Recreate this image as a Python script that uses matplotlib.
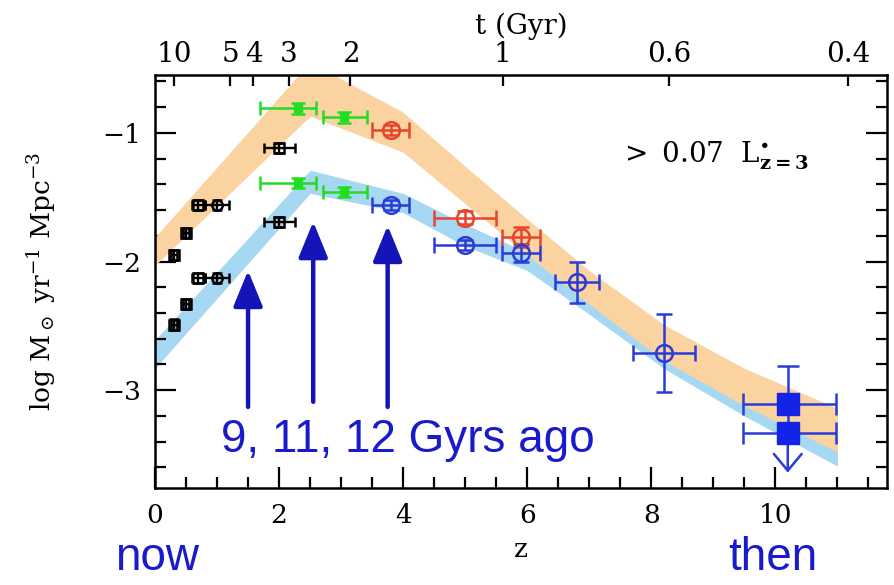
import numpy as np
import matplotlib
matplotlib.use('Agg')
import matplotlib.pyplot as plt
from matplotlib.ticker import MultipleLocator, FixedLocator, NullLocator

plt.rcParams['font.family'] = ['DejaVu Serif']
plt.rcParams['mathtext.fontset'] = 'dejavuserif'

# ---------------- data ----------------
band_z = [0.0, 2.5, 4.0, 5.0, 6.0, 7.0, 8.2, 9.5, 11.0]
orange_hi = [-1.81, -0.45, -0.84, -1.26, -1.67, -2.07, -2.49, -2.83, -3.14]
orange_lo = [-2.03, -0.87, -1.15, -1.55, -1.95, -2.33, -2.77, -3.12, -3.48]
blue_hi = [-2.61, -1.29, -1.47, -1.71, -1.93, -2.28, -2.70, -3.05, -3.42]
blue_lo = [-2.83, -1.47, -1.62, -1.88, -2.07, -2.41, -2.83, -3.20, -3.59]

black_z = [0.3, 0.5, 0.7, 1.0, 2.0]
black_xerr = [0.05, 0.05, 0.1, 0.2, 0.25]
black_hi = [-1.95, -1.78, -1.56, -1.56, -1.12]
black_lo = [-2.49, -2.33, -2.13, -2.13, -1.69]
black_marker = ['s', 's', 's', 'o', 's']

green_z = [2.3, 3.05]
green_xlo = [0.6, 0.35]
green_xhi = [0.3, 0.37]
green_hi = [-0.81, -0.88]
green_lo = [-1.39, -1.46]

red_z = [3.8, 5.0, 5.9]
red_xerr = [0.3, 0.5, 0.3]
red_y = [-0.98, -1.66, -1.81]
red_yerr = [0.04, 0.05, 0.08]

blue_z = [3.8, 5.0, 5.9, 6.8, 8.2]
blue_xerr = [0.3, 0.5, 0.3, 0.35, 0.5]
blue_y = [-1.56, -1.87, -1.93, -2.16, -2.71]
blue_yerr = [0.04, 0.04, 0.07, 0.16, 0.30]

sq_z = [10.2, 10.2]
sq_y = [-3.11, -3.33]
sq_xlo = [0.72, 0.72]
sq_xhi = [0.77, 0.77]
sq_yup = [0.30, 0.0]
limit_end = -3.64

arrow_z = [1.5, 2.55, 3.75]
arrow_tip = [-2.07, -1.69, -1.72]
arrow_base = [-3.13, -3.09, -3.13]

t_ticks = [10, 5, 4, 3, 2, 1, 0.6, 0.4]
t_labels = ['10', '5', '4', '3', '2', '1', '0.6', '0.4']

# cosmology (H0=70, Om=0.3, OL=0.7) for top axis
H0, Om, OL = 70.0, 0.3, 0.7
A = 2.0 / 3.0 * (977.8 / H0) / np.sqrt(OL)
def z_of_t(t):
    t = np.asarray(t, dtype=float)
    return (np.sinh(t / A) / np.sqrt(OL / Om)) ** (-2.0 / 3.0) - 1.0

# ---------------- colors ----------------
c_orange = '#FAD3A0'
c_lblue = '#A6D8F4'
c_green = '#22DD22'
c_red = '#E6452B'
c_blue = '#2B3BD6'
c_sq = '#1424E6'
c_arrow = '#1414B8'
c_text = '#1A1ACD'

fig = plt.figure(figsize=(8.95, 5.85), dpi=100)
ax = fig.add_axes([0.1732, 0.1658, 0.8179, 0.706])

ax.fill_between(band_z, blue_lo, blue_hi, color=c_lblue, lw=0, zorder=1)
ax.fill_between(band_z, orange_lo, orange_hi, color=c_orange, lw=0, zorder=2)

# black points
for z, xe, yh, yl, m in zip(black_z, black_xerr, black_hi, black_lo, black_marker):
    for y in (yh, yl):
        ax.errorbar(z, y, xerr=xe, yerr=0.04, fmt=m, ms=7.5, mfc='none', mec='black',
                    mew=1.8, ecolor='black', elinewidth=1.7, capsize=3.5, capthick=1.7, zorder=5)

# green points
for z, xl, xh, yh, yl in zip(green_z, green_xlo, green_xhi, green_hi, green_lo):
    for y in (yh, yl):
        ax.errorbar(z, y, xerr=[[xl], [xh]], yerr=0.04, fmt='s', ms=6, mfc=c_green, mec=c_green,
                    ecolor=c_green, elinewidth=1.8, capsize=5, capthick=1.8, zorder=5)

# red points
ax.errorbar(red_z, red_y, xerr=red_xerr, yerr=red_yerr, fmt='o', ms=12, mfc='none', mec=c_red,
            mew=1.8, ecolor=c_red, elinewidth=1.8, capsize=6, capthick=1.8, zorder=6)
# blue points
ax.errorbar(blue_z, blue_y, xerr=blue_xerr, yerr=blue_yerr, fmt='o', ms=12, mfc='none', mec=c_blue,
            mew=1.8, ecolor=c_blue, elinewidth=1.8, capsize=6, capthick=1.8, zorder=6)

# z~10 squares
ax.errorbar(sq_z, sq_y, xerr=[sq_xlo, sq_xhi], yerr=[[0.0, 0.0], sq_yup], fmt='s', ms=16,
            mfc=c_sq, mec=c_sq, ecolor=c_blue, elinewidth=1.8, capsize=8, capthick=1.8, zorder=6)
ax.plot([sq_z[0], sq_z[0]], [sq_y[0], sq_y[1]], color=c_blue, lw=1.8, zorder=5)
ax.annotate('', xy=(sq_z[1], limit_end), xytext=(sq_z[1], sq_y[1]),
            arrowprops=dict(arrowstyle='->,head_length=0.6,head_width=0.5', color=c_blue,
                            lw=1.8, mutation_scale=20, shrinkA=0, shrinkB=0), zorder=6)

# big arrows
for z, tip, base in zip(arrow_z, arrow_tip, arrow_base):
    ax.annotate('', xy=(z, tip), xytext=(z, base),
                arrowprops=dict(arrowstyle='-|>,head_length=1.1,head_width=0.45', color=c_arrow,
                                lw=3.2, mutation_scale=20, shrinkA=0, shrinkB=0), zorder=7)

ax.text(4.08, -3.48, '9, 11, 12 Gyrs ago', color=c_text, fontsize=33,
        family=['Liberation Sans', 'DejaVu Sans'], ha='center', va='baseline', zorder=8)

ax.text(9.0, -1.23, r'$>\ 0.07\ \ \mathrm{L}^{\bullet}_{\mathbf{z=3}}$', fontsize=20, ha='center',
        va='baseline', zorder=8)

ax.set_xlim(0, 11.8)
ax.set_ylim(-3.76, -0.55)
ax.xaxis.set_major_locator(MultipleLocator(2))
ax.xaxis.set_minor_locator(MultipleLocator(0.5))
ax.yaxis.set_major_locator(MultipleLocator(1))
ax.yaxis.set_minor_locator(MultipleLocator(0.2))
ax.tick_params(which='both', direction='in', top=False, right=True, width=1.6, labelsize=19)
ax.tick_params(which='major', length=15)
ax.tick_params(which='minor', length=8)
ax.tick_params(axis='x', pad=11)
ax.tick_params(axis='y', pad=10)
ax.set_yticks([-3, -2, -1])
ax.set_yticklabels(['\u22123', '\u22122', '\u22121'])
for s in ax.spines.values():
    s.set_linewidth(1.8)

ax.set_xlabel('z', fontsize=19, labelpad=6)
ax.set_ylabel(r'log M$_\odot$ yr$^{-1}$ Mpc$^{-3}$', fontsize=19, labelpad=32)

# top axis
ax2 = ax.twiny()
ax2.set_xlim(ax.get_xlim())
ax2.xaxis.set_major_locator(FixedLocator(z_of_t(t_ticks)))
ax2.set_xticklabels(t_labels)
ax2.xaxis.set_minor_locator(NullLocator())
ax2.tick_params(direction='in', length=8, width=1.6, labelsize=20, pad=5)
ax2.set_xlabel('t (Gyr)', fontsize=20, labelpad=5)
for s in ax2.spines.values():
    s.set_visible(False)

fig.text(0.175, 0.025, 'now', color=c_text, fontsize=33, ha='center', va='baseline',
         family=['Liberation Sans', 'DejaVu Sans'])
fig.text(0.864, 0.025, 'then', color=c_text, fontsize=33, ha='center', va='baseline',
         family=['Liberation Sans', 'DejaVu Sans'])

fig.savefig('out.png', dpi=100)
